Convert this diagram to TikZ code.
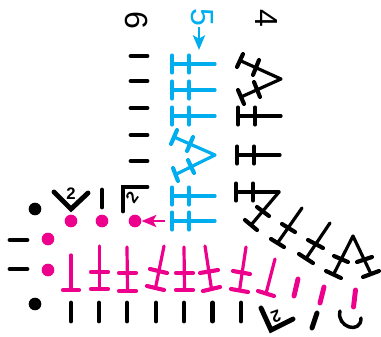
\documentclass[tikz,border=0pt]{standalone}
\usepackage{fontspec}
\setmainfont{Liberation Sans}
\usetikzlibrary{calc,arrows.meta}
\definecolor{cy}{HTML}{00AEEF}
\definecolor{mg}{HTML}{EC008C}
\newcommand{\stbar}[3]{\draw[stem] (#1) -- ($(#2)!.5!(#3)$); \draw[bar] (#2) -- (#3);}
\newcommand{\stcross}[5]{\stbar{#1}{#2}{#3}\draw[bar] (#4) -- (#5);}
\tikzset{
  stem/.style={line width=2.4pt,line cap=round,line join=miter},
  bar/.style={line width=3.1pt,line cap=round},
  tick/.style={line width=3.7pt,line cap=round},
  arcline/.style={line width=2.6pt,line cap=round},
  dot/.style={circle,fill,inner sep=0pt,minimum size=9.5pt},
  num/.style={font=\fontsize{24}{24}\selectfont,rotate=-90,inner sep=0pt},
  small/.style={font=\bfseries\fontsize{12.5}{12.5}\selectfont,inner sep=0pt},
  arr/.style={line width=2pt,-{Stealth[length=11pt,width=9pt,inset=2.5pt]}}
}
\begin{document}
\begin{tikzpicture}[x=0.75pt,y=-0.75pt]
\useasboundingbox (0,0) rectangle (381,336);
% black ticks top column
\foreach \y in {56,81,108,135,161}{\draw[tick] (131,\y) -- (147,\y);}
% labels
\node[num] (six) at (137,20) {6};
\node[num,text=cy] (five) at (202,17) {5};
\node[num] (four) at (267,18) {4};
\coordinate (ba) at (199,27);
\coordinate (bb) at (199,50);
\draw[arr,cy] (ba) -- (bb);
% blue column
\begin{scope}[cy]
\foreach \y in {64,90,116,196,221}{
  \draw[stem] (172,\y) -- (215,\y);
  \draw[bar] (172,\y-8.5) -- (172,\y+8.5);
  \draw[bar] (189,\y-8.5) -- (189,\y+8.5);
}
\stcross{215,155}{177,130}{171,144}{193,137}{187,151}
\stcross{215,155}{173,168}{178,181}{188,160}{194,173}
\end{scope}
% black column
\stcross{281,79}{243,54}{237,67}{259,60}{253,75}
\stcross{281,79}{238,90}{244,104}{254,82}{260,97}
\foreach \y/\xb/\xe in {116/238/281,155/237/280,192/236/279}{
  \draw[stem] (\xb,\y) -- (\xe,\y);
  \draw[bar] (\xb,\y-8.5) -- (\xb,\y+8.5);
  \draw[bar] (\xb+17,\y-8.5) -- (\xb+17,\y+8.5);
}
\stcross{279,192}{245,220}{257,230}{257,207}{269,216}
\stcross{302,208}{271,239}{284,247}{282,224}{295,232}
\stcross{330,223}{299,254}{313,263}{308,240}{323,248}
\stcross{353,236}{326,271}{341,278}{334,256}{348,262}
\stcross{353,236}{363,277}{379,271}{357,262}{372,257}
% magenta row
\begin{scope}[mg]
\stbar{71,255}{63,290}{79,290}
\stcross{99.5,246}{91,289}{108,289}{91,272}{108,272}
\stcross{127,247}{119,291}{136,291}{119,273}{136,273}
\stcross{164,246}{147,286}{164,290}{150,269}{167,273}
\stcross{184,247}{176,290}{193,290}{176,273}{193,273}
\stcross{205,246}{203,291}{220,287}{200,273}{218,270}
\stcross{246,247}{231,289}{248,292}{233,271}{250,274}
\stbar{275,259}{258,291}{274,296}
\draw[tick] (298,279) -- (294,296);
\draw[tick] (324,287) -- (320,303);
\draw[tick] (355.5,290) -- (353.5,307);
\foreach \n/\x/\y in {m1/71/221,m2/102/221,m3/135/221,m4/48/239,m5/48/270}{
  \node[dot,mg] (\n) at (\x,\y) {};
}
\end{scope}
\coordinate (ma) at (165,221);
\draw[arr,mg] (ma) -- (m3);
% black bottom row
\foreach \x in {71,99,127,156,184,212.5,241}{\draw[tick] (\x,303) -- (\x,321);}
\draw[tick,line join=miter] (261,308) -- (271,330) -- (293,319);
\node[small,rotate=200] (t3) at (276,317) {2};
\draw[tick] (317,313) -- (312,328);
\draw[arcline] (340,311) .. controls (336,327) and (361,335) .. (361,318);
% black left
\node[dot] (d1) at (35,209) {};
\node[dot] (d2) at (35,304) {};
\draw[tick] (10,240) -- (27,240);
\draw[tick] (10,269) -- (27,269);
\draw[tick,line join=miter] (54,192) -- (71,209) -- (88,193);
\node[small] (t1) at (71,194) {2};
\draw[tick] (102,190) -- (102,207);
\draw[tick,line join=miter] (147,187) -- (123,187) -- (123,211);
\node[small,rotate=55] (t2) at (132,197) {2};
\end{tikzpicture}
\end{document}
